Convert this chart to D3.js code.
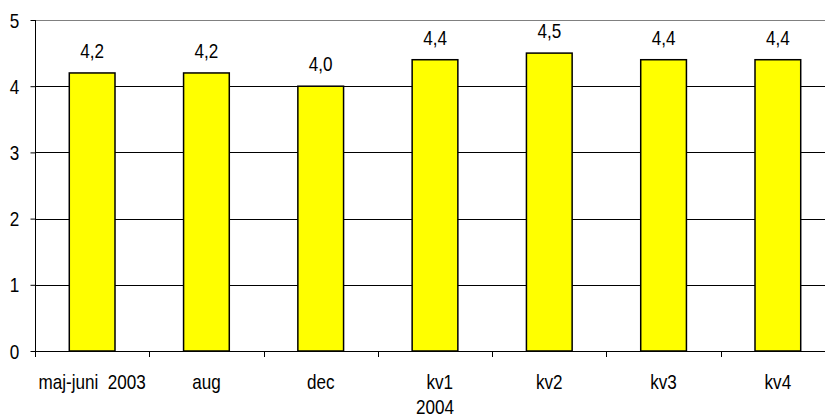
<!DOCTYPE html>
<html>
<head>
<meta charset="utf-8">
<script src="https://cdn.jsdelivr.net/npm/d3@7"></script>
<style>
  html, body { margin: 0; padding: 0; background: #fff; }
  svg { display: block; }
  text { font-family: "Liberation Sans", Arial, sans-serif; fill: #000; }
</style>
</head>
<body>
<div id="chart"></div>
<script>
const categories = ["maj-juni  2003", "aug", "dec", "  kv1\n2004", "kv2", "kv3", "kv4"];
const values = [4.2, 4.2, 4.0, 4.4, 4.5, 4.4, 4.4];
const yTicks = [0, 1, 2, 3, 4, 5];

(function () {
const W = 825, H = 419;
const mLeft = 35, mRight = 835, mTop = 20, mBottom = 351;
const FS = "18px", SX = 0.95, SY = 1.1;
const stretch = `scale(${SX},${SY})`;

const svg = d3.select("#chart").append("svg")
  .attr("width", W).attr("height", H);

const x = d3.scaleBand().domain(categories).range([mLeft, mRight])
  .paddingInner(0.6).paddingOuter(0.3);
const y = d3.scaleLinear().domain([0, 5]).range([mBottom, mTop]);

// gridlines
svg.append("g").selectAll("line").data(yTicks.filter(d => d > 0)).join("line")
  .attr("x1", mLeft).attr("x2", mRight)
  .attr("y1", d => Math.round(y(d)) + 0.5).attr("y2", d => Math.round(y(d)) + 0.5)
  .attr("stroke", d => d === 5 ? "#808080" : "#000")
  .attr("stroke-width", 1);

// bars
svg.append("g").selectAll("rect").data(values).join("rect")
  .attr("x", (d, i) => x(categories[i]))
  .attr("y", d => y(d))
  .attr("width", x.bandwidth())
  .attr("height", d => y(0) - y(d))
  .attr("fill", "#ffff00")
  .attr("stroke", "#000")
  .attr("stroke-width", 1.5);

// value labels
svg.append("g").selectAll("g").data(values).join("g")
  .attr("transform", (d, i) => `translate(${x(categories[i]) + x.bandwidth() / 2},${y(d) - 15})`)
  .append("text")
  .attr("transform", stretch)
  .attr("text-anchor", "middle")
  .style("font-size", FS)
  .text(d => d3.format(".1f")(d).replace(".", ","));

// y axis
const yAxis = d3.axisLeft(y).tickValues(yTicks).tickSize(5).tickPadding(11)
  .tickFormat(d3.format("d"));
const gy = svg.append("g").attr("transform", `translate(${mLeft + 0.5},0)`).call(yAxis);
gy.select(".domain").attr("stroke", "#000").attr("d", `M0,${mTop}V${mBottom + 6}`);
gy.selectAll(".tick line").attr("stroke", "#000");
gy.selectAll(".tick text").style("font-size", FS)
  .style("font-family", '"Liberation Sans", Arial, sans-serif').attr("fill", "#000")
  .attr("transform", stretch).attr("x", -17).attr("dy", "0.36em");

// x axis line
svg.append("line").attr("x1", mLeft).attr("x2", mRight)
  .attr("y1", mBottom + 0.5).attr("y2", mBottom + 0.5)
  .attr("stroke", "#000").attr("stroke-width", 1);

// x category boundary ticks
const step = x.step();
const bounds = categories.map(c => x(c) + x.bandwidth() / 2 - step / 2);
svg.append("g").selectAll("line").data(bounds.slice(1)).join("line")
  .attr("x1", d => Math.round(d) + 0.5).attr("x2", d => Math.round(d) + 0.5)
  .attr("y1", mBottom).attr("y2", mBottom + 6)
  .attr("stroke", "#000");

// category labels
const lab = svg.append("g").selectAll("g").data(categories).join("g")
  .attr("transform", d => `translate(${x(d) + x.bandwidth() / 2},389)`)
  .append("text")
  .attr("transform", stretch)
  .attr("text-anchor", "middle")
  .style("font-size", FS)
  .style("white-space", "pre");
lab.each(function(d) {
  const t = d3.select(this);
  d.split("\n").forEach((line, i) => {
    t.append("tspan").attr("x", 0).attr("dy", i === 0 ? 0 : 23)
      .style("white-space", "pre").text(line);
  });
});
})();
</script>
</body>
</html>
